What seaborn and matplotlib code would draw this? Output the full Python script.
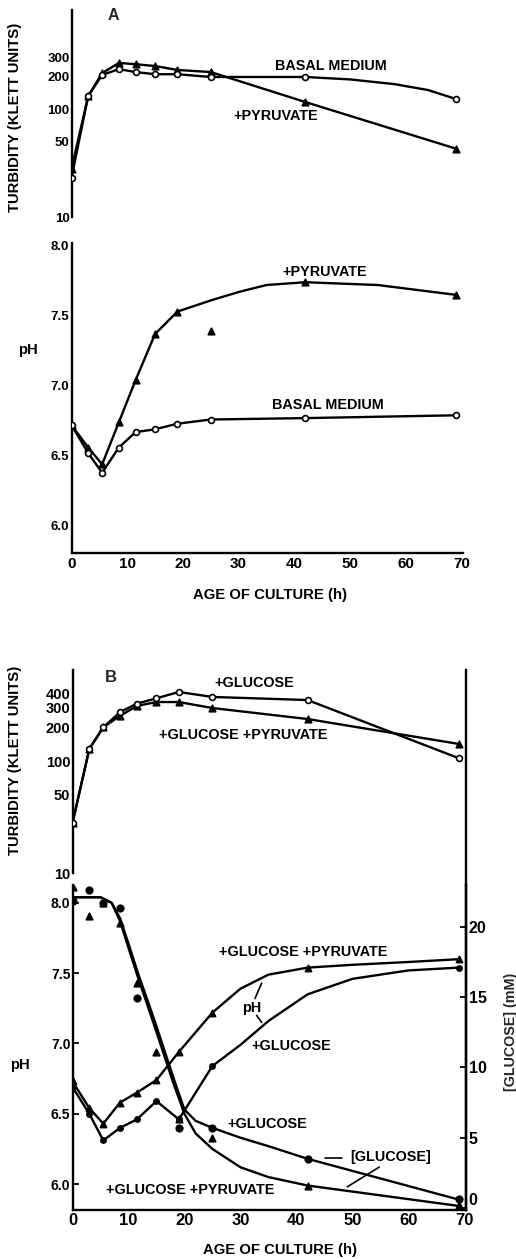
import numpy as np
import matplotlib
matplotlib.use('Agg')
import matplotlib.pyplot as plt
import seaborn as sns
from matplotlib.ticker import FixedLocator, NullLocator, FixedFormatter

# ---- Panel A: basal medium vs + pyruvate ----
a_hours = [0, 3, 5.5, 8.5, 11.5, 15, 19, 25, 42, 69]
a_turb_basal = [23, 132, 207, 234, 220, 210, 210, 198, 198, 124]
a_turb_pyruvate = [28, 132, 215, 267, 260, 250, 230, 220, 116, 43]
a_ph_basal = [6.72, 6.52, 6.38, 6.56, 6.67, 6.69, 6.73, 6.76, 6.77, 6.79]
a_ph_pyruvate = [6.72, 6.56, 6.44, 6.74, 7.04, 7.37, 7.53, 7.39, 7.74, 7.65]
# pyruvate pH curve as drawn (it passes above the 25 h point)
a_ph_curve_hours = [0, 3, 5.5, 8.5, 11.5, 15, 19, 25, 30, 35, 42, 55, 69]
a_ph_pyruvate_curve = [6.72, 6.56, 6.44, 6.74, 7.04, 7.37, 7.53, 7.61, 7.67, 7.72, 7.74, 7.72, 7.65]
# basal turbidity curve as drawn
a_turb_curve_hours = [0, 3, 5.5, 8.5, 11.5, 15, 19, 25, 42, 50, 58, 64, 69]
a_turb_basal_curve = [23, 132, 207, 234, 220, 210, 210, 198, 198, 188, 170, 150, 124]

# ---- Panel B: + glucose vs + glucose + pyruvate ----
b_hours = [0, 3, 5.5, 8.5, 11.5, 15, 19, 25, 42, 69]
b_turb_glucose = [28, 128, 200, 273, 325, 363, 413, 373, 350, 106]
b_turb_glc_pyr = [28, 128, 200, 253, 310, 336, 336, 297, 237, 142]
b_ph_glucose = [6.69, 6.50, 6.31, 6.40, 6.46, 6.59, 6.46, 6.84, np.nan, 7.54]
b_ph_glc_pyr = [6.73, 6.54, 6.43, 6.58, 6.65, 6.74, 6.94, 7.22, 7.54, 7.60]
b_conc_glucose = [21.8, 22.6, 21.7, 21.3, 14.9, np.nan, 5.7, 5.7, 3.5, 0.65]
b_conc_glc_pyr = [22.8, 20.8, 21.7, 20.3, 16.0, 11.1, 6.3, 5.0, 1.6, 0.2]
# smooth curves as drawn
b_ph_curve_hours = [0, 3, 5.5, 8.5, 11.5, 15, 19, 25, 30, 35, 42, 50, 60, 69]
b_ph_glucose_curve = [6.69, 6.50, 6.31, 6.40, 6.46, 6.59, 6.46, 6.84, 6.99, 7.16, 7.35, 7.46, 7.52, 7.54]
b_ph_glc_pyr_curve = [6.73, 6.54, 6.43, 6.58, 6.65, 6.74, 6.94, 7.22, 7.39, 7.49, 7.54, 7.56, 7.58, 7.60]
b_conc_curve_hours = [0, 5, 7, 8.5, 10, 11.7, 14.6, 18, 20, 22, 25, 30, 35, 42, 69]
b_conc_glucose_curve = [22.1, 22.1, 21.7, 20.6, 18.8, 16.7, 13.4, 9.3, 7.0, 6.2, 5.7, 5.0, 4.4, 3.5, 0.6]
b_conc_glc_pyr_curve = [22.1, 22.1, 21.7, 20.4, 18.5, 16.4, 13.0, 8.9, 6.7, 5.3, 4.2, 2.9, 2.2, 1.6, 0.15]

sns.set_style('white')
plt.rcParams['font.family'] = ['Liberation Sans', 'DejaVu Sans']
plt.rcParams['font.weight'] = 'bold'

W, H = 516, 1259
fig = plt.figure(figsize=(W / 100, H / 100), dpi=100)
fig.patch.set_facecolor('white')


def px_rect(left, top, right, bottom):
    return [left / W, 1 - bottom / H, (right - left) / W, (bottom - top) / H]


LW = 1.7
TXT = dict(fontsize=10.4, fontweight='bold', color='black')
TITLE = dict(fontsize=10.7, fontweight='bold', color='black')


def style_axis(ax, spines, size=9.5):
    for name, sp in ax.spines.items():
        sp.set_visible(name in spines)
        sp.set_linewidth(LW)
        sp.set_color('black')
    ax.set_facecolor('none')
    ax.tick_params(direction='in', length=4, width=1.3, pad=1.5, labelsize=size,
                   colors='black')
    for lab in ax.get_xticklabels() + ax.get_yticklabels():
        lab.set_fontweight('bold')


def line(ax, x, y):
    sns.lineplot(x=x, y=y, ax=ax, color='black', linewidth=LW, estimator=None,
                 sort=False, legend=False)


def points(ax, x, y, marker, filled=True, s=20):
    sns.scatterplot(x=x, y=y, ax=ax, marker=marker, s=s,
                    color='black' if filled else 'white', edgecolor='black',
                    linewidth=1.2, legend=False, zorder=5)


def log_axis(ax, ticks, labels):
    ax.set_yscale('log')
    ax.yaxis.set_major_locator(FixedLocator(ticks))
    ax.yaxis.set_major_formatter(FixedFormatter(labels))
    ax.yaxis.set_minor_locator(NullLocator())


# ---------------- Panel A turbidity ----------------
ax1 = fig.add_axes(px_rect(71.5, 10, 463, 217))
ax1.set_yscale('log')
line(ax1, a_turb_curve_hours, a_turb_basal_curve)
line(ax1, a_hours, a_turb_pyruvate)
points(ax1, a_hours, a_turb_pyruvate, '^', s=22)
points(ax1, a_hours, a_turb_basal, 'o', filled=False, s=18)
log_axis(ax1, [10, 50, 100, 200, 300], ['10', '50', '100', '200', '300'])
ax1.set_ylim(10, 826)
ax1.set_xlim(0, 70.3)
ax1.set_xticks([])
ax1.set_xlabel('')
ax1.set_ylabel('')
style_axis(ax1, ['left'])
ax1.text(7.5, 730, 'A', fontsize=11.5, fontweight='bold', ha='center', va='center')
ax1.text(36.5, 250, 'BASAL MEDIUM', ha='left', va='center', **TXT)
ax1.text(29.0, 86, '+PYRUVATE', ha='left', va='center', **TXT)

# ---------------- Panel A pH ----------------
ax2 = fig.add_axes(px_rect(71.5, 243, 463, 553))
line(ax2, a_hours, a_ph_basal)
line(ax2, a_ph_curve_hours, a_ph_pyruvate_curve)
points(ax2, a_hours, a_ph_pyruvate, '^', s=22)
points(ax2, a_hours, a_ph_basal, 'o', filled=False, s=18)
ax2.set_ylim(5.807, 8.02)
ax2.set_xlim(0, 70.3)
ax2.set_yticks([6.0, 6.5, 7.0, 7.5, 8.0])
ax2.set_yticklabels(['6.0', '6.5', '7.0', '7.5', '8.0'])
ax2.set_xticks(range(0, 71, 10))
ax2.set_xlabel('')
ax2.set_ylabel('')
style_axis(ax2, ['left', 'bottom'])
ax2.tick_params(axis='x', pad=3, labelsize=11)
ax2.text(37.8, 7.81, '+PYRUVATE', ha='left', va='center', **TXT)
ax2.text(36.0, 6.86, 'BASAL MEDIUM', ha='left', va='center', **TXT)

# ---------------- Panel B turbidity ----------------
ax3 = fig.add_axes(px_rect(72.5, 670, 466, 885))
ax3.set_yscale('log')
line(ax3, b_hours, b_turb_glucose)
line(ax3, b_hours, b_turb_glc_pyr)
points(ax3, b_hours, b_turb_glc_pyr, '^', s=22)
points(ax3, b_hours, b_turb_glucose, 'o', filled=False, s=18)
log_axis(ax3, [10, 50, 100, 200, 300, 400], ['10', '50', '100', '200', '300', '400'])
ax3.set_ylim(7.82, 649)
ax3.set_xlim(0, 70.3)
ax3.set_xticks([])
ax3.set_xlabel('')
ax3.set_ylabel('')
style_axis(ax3, ['left', 'right'], size=10.5)
ax3.spines['left'].set_bounds(10, 649)
ax3.text(6.9, 560, 'B', fontsize=12, fontweight='bold', ha='center', va='center')
ax3.text(25.4, 497, '+GLUCOSE', ha='left', va='center', **TXT)
ax3.text(15.5, 171, '+GLUCOSE +PYRUVATE', ha='left', va='center', **TXT)

# ---------------- Panel B pH and glucose ----------------
ax4 = fig.add_axes(px_rect(72.5, 885, 466, 1210))
line(ax4, b_ph_curve_hours, b_ph_glucose_curve)
line(ax4, b_ph_curve_hours, b_ph_glc_pyr_curve)
points(ax4, b_hours, b_ph_glc_pyr, '^', s=20)
points(ax4, b_hours, b_ph_glucose, 'o', s=14)
ax4.set_ylim(5.815, 8.128)
ax4.set_xlim(0, 70.3)
ax4.set_yticks([6.0, 6.5, 7.0, 7.5, 8.0])
ax4.set_yticklabels(['6.0', '6.5', '7.0', '7.5', '8.0'])
ax4.set_xticks(range(0, 71, 10))
ax4.set_xlabel('')
ax4.set_ylabel('')
style_axis(ax4, ['left', 'bottom', 'right'], size=10)
ax4.tick_params(axis='x', pad=2, labelsize=12)

ax5 = ax4.twinx()
line(ax5, b_conc_curve_hours, b_conc_glucose_curve)
line(ax5, b_conc_curve_hours, b_conc_glc_pyr_curve)
points(ax5, b_hours, b_conc_glucose, 'o', s=22)
points(ax5, b_hours, b_conc_glc_pyr, '^', s=22)
ax5.set_ylim(-0.14, 22.97)
ax5.set_xlim(0, 70.3)
ax5.set_yticks([0, 5, 10, 15, 20])
ax5.set_yticklabels(['0', '5', '10', '15', '20'])
ax5.set_ylabel('')
style_axis(ax5, ['right'], size=11.5)
ax5.tick_params(axis='y', pad=2)
# the 0 sits just above the corner so it clears the "70" below it
ax5.get_yticklabels()[0].set_verticalalignment('bottom')

ax4.text(26.1, 7.65, '+GLUCOSE +PYRUVATE', ha='left', va='center', **TXT)
ax4.text(32.0, 7.25, 'pH', ha='center', va='center', **TXT)
ax4.plot([32.6, 33.8], [7.32, 7.43], color='black', lw=1.2)
ax4.plot([32.9, 33.8], [7.20, 7.15], color='black', lw=1.2)
ax4.text(32.0, 6.98, '+GLUCOSE', ha='left', va='center', **TXT)
ax4.text(27.6, 6.43, '+GLUCOSE', ha='left', va='center', **TXT)
ax4.plot([45.1, 48.2], [6.185, 6.185], color='black', lw=1.2)
ax4.text(49.6, 6.19, '[GLUCOSE]', ha='left', va='center', **TXT)
ax4.plot([49.1, 54.8], [5.98, 6.12], color='black', lw=1.2)
ax4.text(6.0, 5.96, '+GLUCOSE +PYRUVATE', ha='left', va='center', **TXT)

# ---------------- axis titles ----------------
fig.text(15 / W, 1 - 117 / H, 'TURBIDITY (KLETT UNITS)', rotation=90, ha='center', va='center', **TITLE)
fig.text(15 / W, 1 - 760 / H, 'TURBIDITY (KLETT UNITS)', rotation=90, ha='center', va='center', **TITLE)
fig.text(28 / W, 1 - 350 / H, 'pH', ha='center', va='center', **TITLE)
fig.text(20 / W, 1 - 1065 / H, 'pH', ha='center', va='center', **TITLE)
fig.text(511 / W, 1 - 1032 / H, '[GLUCOSE] (mM)', rotation=90, ha='center', va='center', fontsize=10.3, fontweight='bold')
fig.text(270 / W, 1 - 595 / H, 'AGE OF CULTURE (h)', ha='center', va='center', **TITLE)
fig.text(280 / W, 1 - 1250 / H, 'AGE OF CULTURE (h)', ha='center', va='center', **TITLE)

fig.savefig('out.png', dpi=100, facecolor='white')
